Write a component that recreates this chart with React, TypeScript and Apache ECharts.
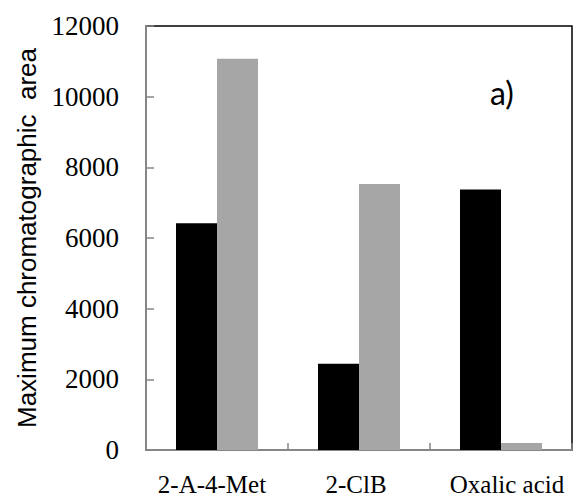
import React, { useEffect, useRef } from "react";
import * as echarts from "echarts";

// Compounds on the category axis
const categories = ["2-A-4-Met", "2-ClB", "Oxalic acid"];
// Maximum chromatographic area for each of the two series
const blackSeries = [6420, 2440, 7370];
const graySeries = [11070, 7530, 200];
// Value-axis range
const yMin = 0;
const yMax = 12000;
const yStep = 2000;

// Small horizontal nudges for the category labels, keyed by label
const labelStyleKey: Record<string, string> = {
  "2-A-4-Met": "left",
  "2-ClB": "mid",
  "Oxalic acid": "right",
};

export default function App() {
  const ref = useRef<HTMLDivElement>(null);

  useEffect(() => {
    if (!ref.current) return;
    const chart = echarts.init(ref.current, null, { renderer: "svg" });
    const labelFont = {
      fontFamily: "Liberation Serif",
      fontSize: 25,
      lineHeight: 25,
      color: "#000000",
    };
    chart.setOption({
      animation: false,
      backgroundColor: "#ffffff",
      grid: {
        left: 146,
        top: 26,
        right: 2,
        bottom: 45,
        show: true,
        borderColor: "#000000",
        borderWidth: 1.5,
        backgroundColor: "transparent",
      },
      xAxis: {
        type: "category",
        data: categories,
        axisLine: { show: true, lineStyle: { color: "#868686", width: 2 } },
        axisTick: {
          show: true,
          inside: true,
          length: 7,
          lineStyle: { color: "#868686", width: 1.5 },
        },
        axisLabel: {
          interval: 0,
          hideOverlap: false,
          margin: 22,
          lineHeight: 25,
          formatter: (v: string) => `{${labelStyleKey[v] || "mid"}|${v}}`,
          rich: {
            left: { ...labelFont, padding: [0, 10, 0, 0] },
            mid: { ...labelFont, padding: [0, 6, 0, 0] },
            right: { ...labelFont, padding: [0, 0, 0, 12] },
          },
        },
        splitLine: { show: false },
      },
      yAxis: {
        type: "value",
        min: yMin,
        max: yMax,
        interval: yStep,
        name: "Maximum chromatographic  area",
        nameLocation: "middle",
        nameGap: 106,
        nameTextStyle: {
          fontFamily: "Liberation Sans",
          fontSize: 26,
          color: "#000000",
        },
        axisLine: { show: true, lineStyle: { color: "#868686", width: 2 } },
        axisTick: {
          show: true,
          inside: true,
          length: 8,
          lineStyle: { color: "#868686", width: 1.5 },
        },
        axisLabel: {
          formatter: (v: number) => String(v),
          fontFamily: "Liberation Serif",
          fontSize: 27,
          color: "#000000",
          margin: 27,
        },
        splitLine: { show: false },
      },
      graphic: [
        {
          type: "text",
          left: 490,
          top: 76,
          style: {
            text: "a)",
            fontFamily: "Lato",
            fontSize: 32,
            fill: "#000000",
          },
        },
      ],
      series: [
        {
          type: "bar",
          data: blackSeries,
          barWidth: 41,
          barGap: "0%",
          itemStyle: { color: "#000000" },
        },
        {
          type: "bar",
          data: graySeries,
          barWidth: 41,
          barGap: "0%",
          itemStyle: { color: "#a6a6a6" },
        },
      ],
    });
    return () => chart.dispose();
  }, []);

  return (
    <div
      ref={ref}
      style={{ position: "fixed", left: 0, top: 0, width: 574, height: 497 }}
    />
  );
}
